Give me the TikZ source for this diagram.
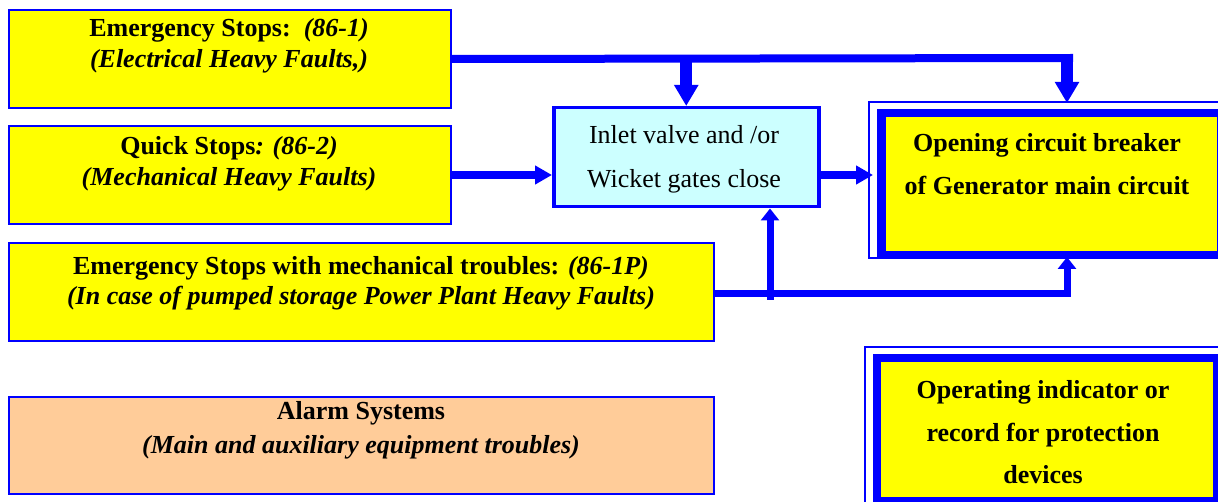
\documentclass[tikz,border=0pt]{standalone}
\usepackage{fontspec}
\setmainfont{Liberation Serif}
\usetikzlibrary{arrows.meta,calc}
\definecolor{myblue}{RGB}{0,0,255}
\definecolor{boxyellow}{RGB}{255,255,0}
\definecolor{lightcyan}{RGB}{204,255,255}
\definecolor{peach}{RGB}{255,204,153}
\begin{document}
\begin{tikzpicture}[x=1pt,y=-1pt,
  ybox/.style={draw=myblue, line width=2pt, fill=boxyellow, anchor=north west, inner sep=0pt},
  pbox/.style={ybox, fill=peach},
  cbox/.style={draw=myblue, line width=3.5pt, fill=lightcyan, anchor=north west, inner sep=0pt},
  dbox/.style={draw=myblue, line width=8.5pt, fill=boxyellow, anchor=north west, inner sep=0pt},
  frame/.style={draw=myblue, line width=1.3pt},
  txt/.style={align=center, inner sep=0pt, font=\fontsize{26}{#1}\selectfont},
  txt/.default=31,
  hline/.style={draw=myblue, line width=8pt},
  bigarrow/.style={draw=myblue, line width=12pt, -{Triangle[width=23pt,length=21pt]}},
  midarrow/.style={draw=myblue, line width=7.5pt, -{Triangle[width=18pt,length=17pt]}},
  smallarrow/.style={draw=myblue, line width=7pt, -{Triangle[width=18pt,length=12pt]}},
]
\useasboundingbox (0,0) rectangle (1218,502);

% boxes
\node[ybox, minimum width=442pt, minimum height=98pt] (A) at (8,9) {};
\node[ybox, minimum width=442pt, minimum height=98pt] (B) at (8,125) {};
\node[ybox, minimum width=705pt, minimum height=98pt] (C) at (8,242) {};
\node[pbox, minimum width=705pt, minimum height=97pt] (D) at (8,396) {};
\node[cbox, minimum width=265pt, minimum height=99pt] (In) at (552,106) {};

\draw[frame] (869,102) rectangle (1240,258);
\node[dbox, minimum width=340pt, minimum height=142pt] (Op) at (877,109) {};
\draw[frame] (865,347) rectangle (1240,520);
\node[dbox, minimum width=340.5pt, minimum height=142.5pt] (Ind) at (872.5,354) {};

% texts
\node[txt] (At) at (229,46) {\textbf{Emergency Stops:}\ \ \textbf{\textit{(86-1)}}\\\textbf{\textit{(Electrical Heavy Faults,)}}};
\node[txt] (Bt) at (229,164) {\textbf{Quick Stops\textit{: (86-2)}}\\\textbf{\textit{(Mechanical Heavy Faults)}}};
\node[txt=30] (Ct) at (361,283) {\textbf{Emergency Stops with mechanical troubles: \textit{(86-1P)}}\\\textbf{\textit{(In case of pumped storage Power Plant Heavy Faults)}}};
\node[txt=34] (Dt) at (361,430) {\textbf{Alarm Systems}\\\textbf{\textit{(Main and auxiliary equipment troubles)}}};
\node[txt=44] (Int) at (684,159) {Inlet valve and /or\\Wicket gates close};
\node[txt=43] (Opt) at (1047,164.5) {\textbf{Opening circuit breaker}\\\textbf{of Generator main circuit}};
\node[txt=42.5] (Indt) at (1043,432.5) {\textbf{Operating indicator or}\\\textbf{record for protection}\\\textbf{devices}};

% connectors
\coordinate (topcorner) at (1073,58);
\coordinate (topin) at (1067,103);
\coordinate (botin) at (1067,257);
\coordinate (branch) at (770,300);
\draw[hline] (A.east) -- (topcorner);
\draw[bigarrow] (A.east -| topin) -- (topin);
\draw[bigarrow] (A.east -| In.north) -- (In.north);
\draw[midarrow] (B.east) -- (B.east -| In.west);
\draw[midarrow, shorten >=4pt] (In.east |- B.east) -- (Op.west |- B.east);
\draw[smallarrow] (C.east |- 0,294) -| (botin);
\draw[smallarrow] (branch) -- (branch |- In.south);
\end{tikzpicture}
\end{document}
